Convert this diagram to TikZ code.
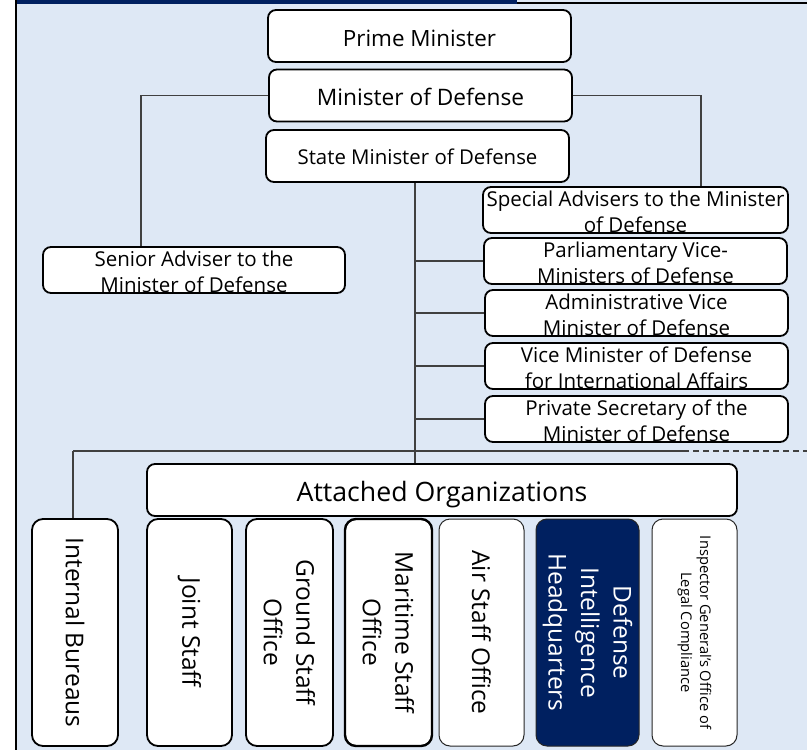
\documentclass[tikz,border=0pt]{standalone}
\usepackage{fontspec}
\setmainfont{Open Sans}
\definecolor{bgblue}{HTML}{DEE8F5}
\definecolor{navy}{HTML}{002060}
\definecolor{lineg}{HTML}{404040}
\newcommand{\lowtxt}[2][-10pt]{\raisebox{#1}[5pt][5pt]{\begin{tabular}{@{}c@{}}#2\end{tabular}}}
\begin{document}
\begin{tikzpicture}[x=1pt,y=-1pt,
  box/.style={draw=black, line width=1.8pt, fill=white, rounded corners=8pt, inner sep=0pt, align=center, text=black},
  topbox/.style={box, minimum width=303pt, minimum height=52pt},
  sidebox/.style={box, minimum width=304pt, minimum height=46pt, font=\fontsize{20.5}{25.5}\selectfont},
  vbox/.style={box, rotate=-90, rounded corners=11pt, minimum width=227pt, font=\fontsize{24.5}{32.5}\selectfont},
  thinbox/.style={line width=1pt, draw=black!85},
  conn/.style={draw=lineg, line width=1.2pt}]
\useasboundingbox (0,0) rectangle (807,750);
\fill[bgblue] (16,0) rectangle (807,750);
\fill[navy] (16,0) rectangle (517,4);
\draw[line width=2.5pt] (517,3.2) -- (807,3.2);
\draw[line width=2.5pt] (16,0) -- (16,750);

% top chain
\node[topbox, font=\fontsize{22.4}{28}\selectfont] (pm) at (419.5,36) {\lowtxt{Prime Minister}};
\node[topbox, font=\fontsize{22.7}{28}\selectfont] (mod) at (420.5,95.5) {\lowtxt{Minister of Defense}};
\node[topbox, font=\fontsize{20.4}{25}\selectfont] (smd) at (417.5,156) {\lowtxt[-9pt]{State Minister of Defense}};

% side boxes
\node[sidebox, minimum width=302pt] (sen) at (194,270) {\lowtxt[-9.5pt]{Senior Adviser to the\\Minister of Defense}};
\node[sidebox, minimum width=305pt] (spa) at (635.5,210) {\lowtxt[-9.5pt]{Special Advisers to the Minister\\of Defense}};
\node[sidebox, minimum width=303pt] (par) at (635.5,261) {\lowtxt[-9.5pt]{Parliamentary Vice-\\Ministers of Defense}};
\node[sidebox, minimum width=303pt] (adm) at (636.5,313) {\lowtxt[-9.5pt]{Administrative Vice\\Minister of Defense}};
\node[sidebox, minimum width=303pt] (vic) at (636.5,366) {\lowtxt[-9.5pt]{Vice Minister of Defense\\for International Affairs}};
\node[sidebox, minimum width=303pt] (pri) at (636.5,419) {\lowtxt[-9.5pt]{Private Secretary of the\\Minister of Defense}};

% attached organizations
\node[box, minimum width=590pt, minimum height=52pt, font=\fontsize{26.7}{32}\selectfont] (att) at (442,490) {\lowtxt[-11pt]{Attached Organizations}};

% vertical boxes
\node[vbox, minimum height=86pt] (ib) at (75,632.5) {Internal Bureaus};
\node[vbox, minimum height=85pt] (js) at (189.5,632.5) {Joint Staff};
\node[vbox, minimum height=87pt] (gso) at (289.5,632.5) {Ground Staff\\Office};
\node[vbox, minimum height=87pt, line width=2.4pt] (mso) at (388.5,632.5) {Maritime Staff\\Office};
\node[vbox, thinbox, minimum height=85pt] (aso) at (481.5,632.5) {Air Staff Office};
\node[vbox, thinbox, fill=navy, text=white, minimum height=103pt] (dih) at (587.5,632.5) {Defense\\Intelligence\\Headquarters};
\node[vbox, thinbox, minimum height=85pt, font=\fontsize{14.7}{19}\selectfont] (ig) at (694.5,632.5) {Inspector General's Office of\\Legal Compliance};

% connectors
\coordinate (sx) at (415,0);
\coordinate (lx) at (141,0);
\coordinate (rx) at (701,0);
\draw[conn] (mod.west) -- (lx |- mod.west) -- (lx |- sen.north);
\draw[conn] (mod.east) -- (rx |- mod.east) -- (rx |- spa.north);
\draw[conn] (sx |- smd.south) -- (sx |- att.north);
\draw[conn] (sx |- par.west) -- (par.west);
\draw[conn] (sx |- adm.west) -- (adm.west);
\draw[conn] (sx |- vic.west) -- (vic.west);
\draw[conn] (sx |- pri.west) -- (pri.west);
\coordinate (ll) at (73,451);
\coordinate (lm) at (683,451);
\coordinate (lr) at (807,451);
\draw[conn] (ll) -- (lm);
\draw[conn, dash pattern=on 6pt off 4pt] (lm) -- (lr);
\draw[conn] (ll) -- (ll |- ib.west);
\end{tikzpicture}
\end{document}
